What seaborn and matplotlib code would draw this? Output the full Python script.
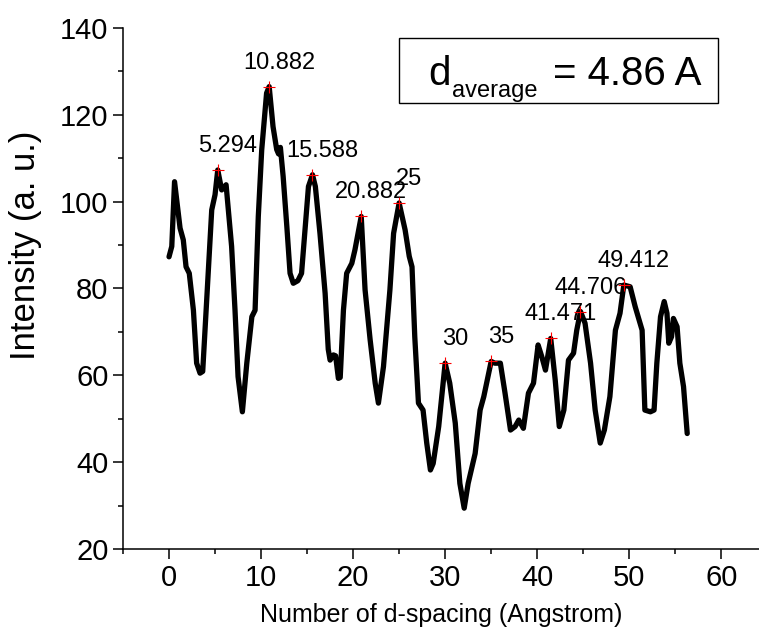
import numpy as np
import pandas as pd
import matplotlib
matplotlib.use("Agg")
import matplotlib.pyplot as plt
import seaborn as sns
from matplotlib.patches import Rectangle
from matplotlib.ticker import MultipleLocator

# curve
x_vals = [0.0, 0.3, 0.6, 1.2, 1.55, 1.85, 2.2, 2.65, 3.0, 3.37, 3.66, 4.1, 4.64, 5.0,
          5.294, 5.72, 6.2, 6.8, 7.17, 7.5, 7.97, 8.45, 9.0, 9.35, 9.7, 10.07, 10.6,
          10.882, 11.3, 11.7, 11.9, 12.1, 12.4, 12.8, 13.15, 13.5, 14.0, 14.4, 14.8,
          15.15, 15.588, 15.9, 16.4, 16.96, 17.3, 17.5, 17.86, 18.1, 18.4, 18.6, 18.95,
          19.3, 19.86, 20.2, 20.882, 21.3, 21.85, 22.4, 22.75, 23.3, 24.0, 24.4, 25.0,
          25.65, 26.1, 26.4, 26.7, 27.1, 27.6, 28.0, 28.4, 28.7, 29.3, 30.0, 30.5, 31.1,
          31.6, 32.07, 32.5, 33.26, 33.8, 34.2, 35.0, 35.4, 36.0, 36.5, 37.1, 37.6, 38.0,
          38.5, 39.05, 39.6, 40.1, 40.5, 40.9, 41.471, 41.96, 42.4, 42.9, 43.4, 43.95,
          44.3, 44.706, 45.2, 45.8, 46.3, 46.85, 47.3, 47.9, 48.5, 49.0, 49.412, 50.1,
          50.65, 51.4, 51.7, 52.3, 52.7, 53.0, 53.4, 53.8, 54.1, 54.3, 54.6, 54.8, 55.2,
          55.5, 55.9, 56.3]
y_vals = [87.3, 89.7, 104.6, 93.9, 91.2, 85.0, 83.5, 75.0, 62.8, 60.5, 60.9, 77.4, 98.1, 101.6,
          107.3, 102.7, 103.9, 89.7, 75.0, 59.7, 51.6, 62.8, 73.5, 75.0, 96.6, 111.9, 125.0,
          126.5, 117.3, 112.0, 111.0, 112.5, 105.8, 94.3, 83.5, 81.2, 81.8, 83.5, 94.3,
          103.5, 106.2, 103.5, 92.7, 78.9, 66.0, 63.5, 64.7, 64.5, 59.3, 59.5, 75.0,
          83.5, 85.8, 88.9, 96.6, 79.7, 68.2, 58.2, 53.6, 62.0, 79.7, 92.7, 99.7,
          93.5, 87.4, 85.0, 68.9, 53.6, 52.0, 44.4, 38.2, 39.7, 48.2, 62.8, 58.2, 49.0,
          35.1, 29.4, 35.1, 42.0, 52.0, 55.1, 63.2, 62.8, 62.8, 56.0, 47.4, 48.2, 49.7,
          47.8, 55.9, 58.2, 67.0, 64.3, 61.2, 68.5, 58.9, 48.2, 52.0, 63.5, 65.1,
          70.4, 74.7, 72.0, 62.8, 52.0, 44.4, 47.4, 55.1, 70.4, 74.3, 80.8, 80.4,
          75.8, 70.4, 52.0, 51.6, 52.0, 62.8, 73.5, 77.0, 74.3, 67.4, 68.9, 73.1, 71.2,
          62.8, 57.4, 46.6]

# labelled peaks
peak_x = [5.294, 10.882, 15.588, 20.882, 25.0, 30.0, 35.0, 41.471, 44.706, 49.412]
peak_y = [107.3, 126.5, 106.2, 96.6, 99.7, 62.8, 63.2, 68.5, 74.7, 80.8]
peak_labels = ["5.294", "10.882", "15.588", "20.882", "25", "30", "35",
               "41.471", "44.706", "49.412"]

df = pd.DataFrame({"x": x_vals, "y": y_vals})
peaks = pd.DataFrame({"x": peak_x, "y": peak_y})

sns.set_theme(style="ticks")
plt.rcParams["font.family"] = ["Liberation Sans", "DejaVu Sans"]
plt.rcParams["text.color"] = "black"
plt.rcParams["axes.labelcolor"] = "black"
plt.rcParams["xtick.color"] = "black"
plt.rcParams["ytick.color"] = "black"

fig = plt.figure(figsize=(7.59, 6.32), dpi=100)
ax = fig.add_axes([123 / 759, 1 - 549 / 632, 636 / 759, 521 / 632])

sns.lineplot(data=df, x="x", y="y", ax=ax, color="black", linewidth=3.8,
             estimator=None, sort=False, solid_joinstyle="round", solid_capstyle="round")
sns.scatterplot(data=peaks, x="x", y="y", ax=ax, marker="+", color="red", s=70,
                linewidth=0.8, zorder=5)

for px, py, lab in zip(peak_x, peak_y, peak_labels):
    ax.annotate(lab, (px, py), xytext=(10, 18), textcoords="offset pixels",
                ha="center", va="baseline", fontsize=17, color="black")

ax.set_xlim(-5, 64.1)
ax.set_ylim(20, 140)
ax.xaxis.set_major_locator(MultipleLocator(10))
ax.xaxis.set_minor_locator(MultipleLocator(5))
ax.yaxis.set_major_locator(MultipleLocator(20))
ax.yaxis.set_minor_locator(MultipleLocator(10))
ax.tick_params(which="major", direction="out", length=7, width=1.1, labelsize=21)
ax.tick_params(which="minor", direction="out", length=3.5, width=1.1)
for side in ["top", "right"]:
    ax.spines[side].set_visible(False)
for side in ["left", "bottom"]:
    ax.spines[side].set_linewidth(1.1)
    ax.spines[side].set_color("black")

ax.set_xlabel("Number of d-spacing (Angstrom)", fontsize=18, labelpad=8)
ax.set_ylabel("Intensity (a. u.)", fontsize=25)
ax.yaxis.set_label_coords(-0.128, 0.583)

# d_average box
ax.add_patch(Rectangle((25.0, 122.8), 34.67, 14.9, fill=False, edgecolor="black",
                       linewidth=1.0, zorder=6))
ax.text(28.15, 126.9, "d", fontsize=29, ha="left", va="baseline")
ax.text(30.76, 124.15, "average", fontsize=17, ha="left", va="baseline")
ax.text(41.74, 126.9, "= 4.86 A", fontsize=29, ha="left", va="baseline")

fig.savefig("out.png", dpi=100)
